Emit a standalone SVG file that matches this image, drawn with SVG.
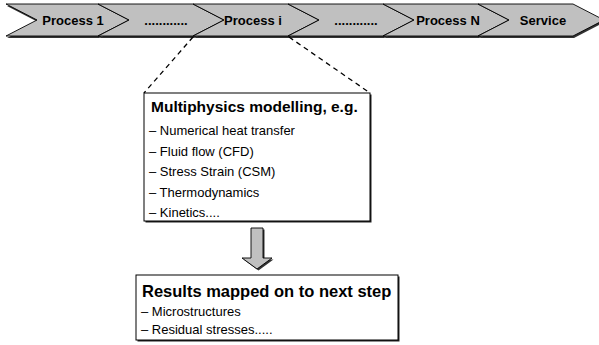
<svg xmlns="http://www.w3.org/2000/svg" width="599" height="345" viewBox="0 0 599 345">
<style>
.chev{fill:#C0C0C0;stroke:#000;stroke-width:0.9;stroke-linejoin:miter}
.shad{fill:#333}
.ct{font-family:"Liberation Sans",Arial,sans-serif;font-size:13px;font-weight:bold;fill:#000;text-anchor:middle}
.box{fill:#fff;stroke:#000;stroke-width:1}
.ttl{font-family:"Liberation Sans",Arial,sans-serif;font-size:15.5px;font-weight:bold;fill:#000}
.itm{font-family:"Liberation Sans",Arial,sans-serif;font-size:13px;fill:#000}
.dash{fill:none;stroke:#000;stroke-width:1.3;stroke-dasharray:5,4}
</style>
<rect width="599" height="345" fill="#fff"/>
<g id="shadows">
<polygon class="shad" points="7,6 99,6 130,22 99,38 7,38 38,22"/>
<polygon class="shad" points="99,6 194,6 225,22 194,38 99,38 130,22"/>
<polygon class="shad" points="194,6 289,6 320,22 289,38 194,38 225,22"/>
<polygon class="shad" points="289,6 384,6 415,22 384,38 289,38 320,22"/>
<polygon class="shad" points="384,6 479,6 510,22 479,38 384,38 415,22"/>
<polygon class="shad" points="479,6 574,6 605,22 574,38 479,38 510,22"/>
</g>
<g id="chev-process1">
<polygon class="chev" points="6,4 98,4 129,20 98,36 6,36 37,20"/>
<text class="ct" x="73" y="25">Process 1</text>
</g>
<g id="chev-dots1">
<polygon class="chev" points="98,4 193,4 224,20 193,36 98,36 129,20"/>
<text class="ct" x="166" y="25">............</text>
</g>
<g id="chev-processi">
<polygon class="chev" points="193,4 288,4 319,20 288,36 193,36 224,20"/>
<text class="ct" x="253" y="25">Process i</text>
</g>
<g id="chev-dots2">
<polygon class="chev" points="288,4 383,4 414,20 383,36 288,36 319,20"/>
<text class="ct" x="356" y="25">............</text>
</g>
<g id="chev-processN">
<polygon class="chev" points="383,4 478,4 509,20 478,36 383,36 414,20"/>
<text class="ct" x="448" y="25">Process N</text>
</g>
<g id="chev-service">
<polygon class="chev" points="478,4 573,4 604,20 573,36 478,36 509,20"/>
<text class="ct" x="543" y="25">Service</text>
</g>
<g id="connectors">
<line class="dash" x1="193" y1="37" x2="144" y2="93"/>
<line class="dash" x1="289" y1="37" x2="370" y2="93"/>
<polygon points="252.5,229.5 264.5,229.5 264.5,259.5 273.5,259.5 258.5,270.5 243.5,259.5 252.5,259.5" fill="#333"/>
<polygon points="251,228 263,228 263,258 272,258 257,269 242,258 251,258" fill="#C0C0C0" stroke="#000" stroke-width="0.9"/>
</g>
<g id="box-multiphysics">
<rect x="145.5" y="94.5" width="226" height="128" fill="#222"/>
<rect class="box" x="144" y="93" width="226" height="128"/>
<text class="ttl" x="151" y="112">Multiphysics modelling, e.g.</text>
<text class="itm" x="149" y="135">– Numerical heat transfer</text>
<text class="itm" x="149" y="156">– Fluid flow (CFD)</text>
<text class="itm" x="149" y="176">– Stress Strain (CSM)</text>
<text class="itm" x="149" y="197">– Thermodynamics</text>
<text class="itm" x="149" y="217">– Kinetics....</text>
</g>
<g id="box-results">
<rect x="137.5" y="276.5" width="262" height="65" fill="#222"/>
<rect class="box" x="136" y="275" width="262" height="65"/>
<text class="ttl" x="142" y="297" style="font-size:16.5px">Results mapped on to next step</text>
<text class="itm" x="141" y="316">– Microstructures</text>
<text class="itm" x="141" y="334">– Residual stresses.....</text>
</g>
</svg>
